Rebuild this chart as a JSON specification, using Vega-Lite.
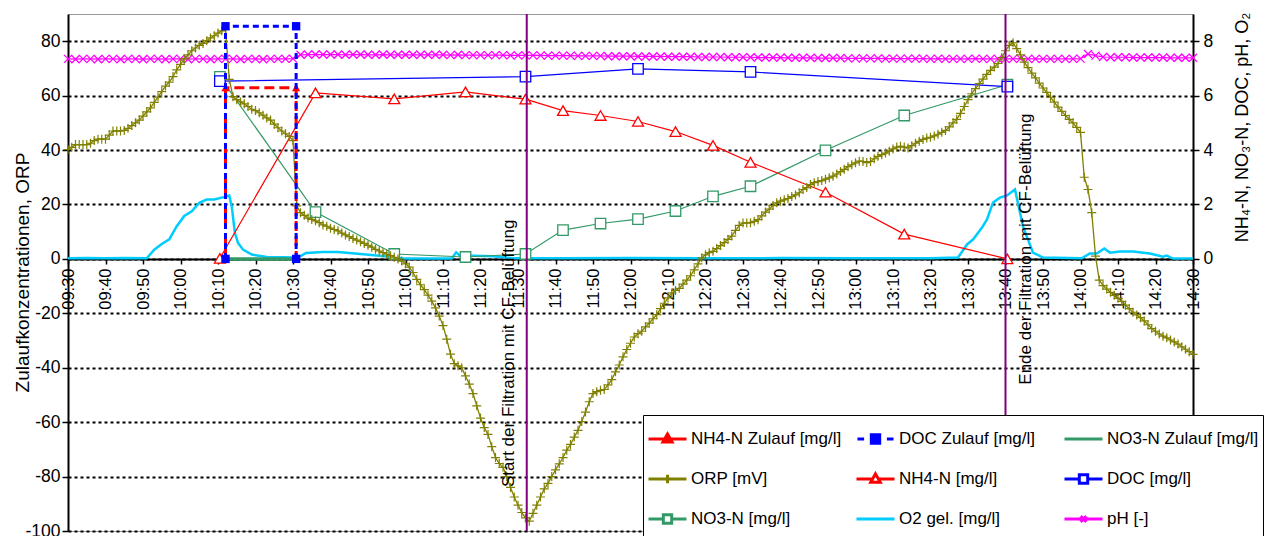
{
  "$schema": "https://vega.github.io/schema/vega-lite/v6.json",
  "width": 1125,
  "height": 517,
  "autosize": {"type": "none"},
  "padding": {"left": 68, "top": 14, "right": 71, "bottom": 5},
  "background": "white",
  "config": {
    "font": "Liberation Sans",
    "view": {"stroke": "#9a9a9a", "strokeWidth": 1},
    "axis": {"labelColor": "black", "titleColor": "black", "titleFontWeight": "normal", "labelFont": "Liberation Sans", "titleFont": "Liberation Sans"}
  },
  "encoding": {
    "x": {"field": "t", "type": "temporal",
      "scale": {"nice": false},
      "axis": {"title": null, "format": "%H:%M",
        "values": [
          {"year":1900,"month":1,"date":1,"hours":9,"minutes":30},{"year":1900,"month":1,"date":1,"hours":9,"minutes":40},{"year":1900,"month":1,"date":1,"hours":9,"minutes":50},
          {"year":1900,"month":1,"date":1,"hours":10,"minutes":0},{"year":1900,"month":1,"date":1,"hours":10,"minutes":10},{"year":1900,"month":1,"date":1,"hours":10,"minutes":20},
          {"year":1900,"month":1,"date":1,"hours":10,"minutes":30},{"year":1900,"month":1,"date":1,"hours":10,"minutes":40},{"year":1900,"month":1,"date":1,"hours":10,"minutes":50},
          {"year":1900,"month":1,"date":1,"hours":11,"minutes":0},{"year":1900,"month":1,"date":1,"hours":11,"minutes":10},{"year":1900,"month":1,"date":1,"hours":11,"minutes":20},
          {"year":1900,"month":1,"date":1,"hours":11,"minutes":30},{"year":1900,"month":1,"date":1,"hours":11,"minutes":40},{"year":1900,"month":1,"date":1,"hours":11,"minutes":50},
          {"year":1900,"month":1,"date":1,"hours":12,"minutes":0},{"year":1900,"month":1,"date":1,"hours":12,"minutes":10},{"year":1900,"month":1,"date":1,"hours":12,"minutes":20},
          {"year":1900,"month":1,"date":1,"hours":12,"minutes":30},{"year":1900,"month":1,"date":1,"hours":12,"minutes":40},{"year":1900,"month":1,"date":1,"hours":12,"minutes":50},
          {"year":1900,"month":1,"date":1,"hours":13,"minutes":0},{"year":1900,"month":1,"date":1,"hours":13,"minutes":10},{"year":1900,"month":1,"date":1,"hours":13,"minutes":20},
          {"year":1900,"month":1,"date":1,"hours":13,"minutes":30},{"year":1900,"month":1,"date":1,"hours":13,"minutes":40},{"year":1900,"month":1,"date":1,"hours":13,"minutes":50},
          {"year":1900,"month":1,"date":1,"hours":14,"minutes":0},{"year":1900,"month":1,"date":1,"hours":14,"minutes":10},{"year":1900,"month":1,"date":1,"hours":14,"minutes":20},
          {"year":1900,"month":1,"date":1,"hours":14,"minutes":30}
        ],
        "labelAngle": -90, "labelFontSize": 16.5, "labelPadding": 4, "labelFlush": false,
        "labelOverlap": false,
        "tickSize": 5, "tickColor": "black", "tickWidth": 1.5,
        "domainColor": "black", "domainWidth": 2, "grid": false, "offset": -272}}
  },
  "resolve": {"scale": {"y": "independent"}},
  "layer": [
    {
      "data": {"format": {"parse": {"t": "date:'%H:%M:%S'"}}, "values": [
        {"t":"09:30:00","v":0.02},{"t":"09:35:00","v":0.03},{"t":"09:40:00","v":0.02},{"t":"09:45:00","v":0.03},{"t":"09:51:00","v":0.02},
        {"t":"09:53:00","v":0.34},{"t":"09:55:00","v":0.55},{"t":"09:57:00","v":0.72},{"t":"09:59:00","v":1.2},{"t":"10:01:00","v":1.58},
        {"t":"10:03:00","v":1.75},{"t":"10:05:00","v":2.06},{"t":"10:07:00","v":2.18},{"t":"10:09:00","v":2.18},{"t":"10:11:30","v":2.27},
        {"t":"10:13:00","v":2.33},{"t":"10:13:40","v":1.93},{"t":"10:14:30","v":0.96},{"t":"10:15:20","v":0.59},{"t":"10:16:40","v":0.34},
        {"t":"10:19:00","v":0.16},{"t":"10:23:00","v":0.07},{"t":"10:31:00","v":0.05},{"t":"10:32:00","v":0.1},{"t":"10:33:30","v":0.22},
        {"t":"10:38:00","v":0.25},{"t":"10:42:00","v":0.25},{"t":"10:49:30","v":0.16},{"t":"10:56:30","v":0.07},{"t":"11:00:00","v":0.01},
        {"t":"11:12:20","v":0.01},{"t":"11:13:30","v":0.24},{"t":"11:14:30","v":0.12},{"t":"11:18:00","v":0.12},{"t":"11:23:30","v":0.1},
        {"t":"11:28:50","v":0.02},{"t":"11:40:00","v":0.02},{"t":"12:00:00","v":0.03},{"t":"12:20:00","v":0.02},{"t":"12:40:00","v":0.03},
        {"t":"13:00:00","v":0.02},{"t":"13:20:00","v":0.02},{"t":"13:27:20","v":0.05},{"t":"13:29:44","v":0.53},{"t":"13:31:20","v":0.71},
        {"t":"13:33:44","v":1.15},{"t":"13:35:04","v":1.45},{"t":"13:36:40","v":2.07},{"t":"13:38:32","v":2.25},{"t":"13:40:24","v":2.33},
        {"t":"13:42:32","v":2.55},{"t":"13:44:40","v":1.19},{"t":"13:46:00","v":0.71},{"t":"13:47:20","v":0.23},{"t":"13:50:00","v":0.05},
        {"t":"14:00:20","v":0.02},{"t":"14:02:30","v":0.2},{"t":"14:04:20","v":0.2},{"t":"14:06:20","v":0.38},{"t":"14:07:50","v":0.23},
        {"t":"14:10:30","v":0.27},{"t":"14:14:00","v":0.27},{"t":"14:18:30","v":0.2},{"t":"14:22:00","v":0.08},{"t":"14:23:00","v":0.12},
        {"t":"14:24:40","v":0.01},{"t":"14:30:00","v":0.01}
      ]},
      "mark": {"type": "line", "color": "#00CCFF", "strokeWidth": 2.5},
      "encoding": {
        "y": {"field": "v", "type": "quantitative",
          "scale": {"domain": [-10, 9], "nice": false, "zero": false},
          "axis": {"orient": "right", "title": "NH₄-N, NO₃-N, DOC, pH, O₂",
            "values": [-10,-8,-6,-4,-2,0,2,4,6,8],
            "labelExpr": "datum.value >= 0 ? toString(datum.value) : ''",
            "grid": false, "domainColor": "black", "domainWidth": 2,
            "tickColor": "black", "tickSize": 6, "tickWidth": 1.5,
            "labelFontSize": 17.5, "labelPadding": 4,
            "titleFontSize": 18, "titleAngle": 270, "titleX": 49, "titleY": 113,
            "titleAlign": "center", "titleBaseline": "middle"}}
      }
    },
    {
      "data": {"format": {"parse": {"t": "date:'%H:%M:%S'"}}, "values": [
        {"t":"10:10:30","v":6.69},{"t":"10:36:00","v":1.72},{"t":"10:57:00","v":0.18},{"t":"11:16:00","v":0.07},{"t":"11:32:00","v":0.18},
        {"t":"11:42:00","v":1.06},{"t":"11:52:00","v":1.3},{"t":"12:02:00","v":1.46},{"t":"12:12:00","v":1.76},{"t":"12:22:00","v":2.3},
        {"t":"12:32:00","v":2.67},{"t":"12:52:00","v":3.99},{"t":"13:13:00","v":5.27},{"t":"13:40:30","v":6.4}
      ]},
      "encoding": {
        "y": {"field": "v", "type": "quantitative", "scale": {"domain": [-10, 9], "nice": false, "zero": false}, "axis": null}
      },
      "layer": [
        {"mark": {"type": "line", "color": "#339966", "strokeWidth": 1.2}},
        {"mark": {"type": "point", "shape": "square", "size": 110, "filled": true, "fill": "white", "stroke": "#339966", "strokeWidth": 1.3, "opacity": 1}}
      ]
    },
    {
      "data": {"format": {"parse": {"t": "date:'%H:%M:%S'"}}, "values": [
        {"t":"10:10:30","v":6.53},{"t":"11:32:00","v":6.7},{"t":"12:02:00","v":6.98},{"t":"12:32:00","v":6.87},{"t":"13:40:30","v":6.33}
      ]},
      "encoding": {
        "y": {"field": "v", "type": "quantitative", "scale": {"domain": [-10, 9], "nice": false, "zero": false}, "axis": null}
      },
      "layer": [
        {"mark": {"type": "line", "color": "#0000FF", "strokeWidth": 1.2}},
        {"mark": {"type": "point", "shape": "square", "size": 110, "filled": true, "fill": "white", "stroke": "#0000FF", "strokeWidth": 1.3, "opacity": 1}}
      ]
    },
    {
      "data": {"format": {"parse": {"t": "date:'%H:%M:%S'"}}, "values": [
        {"t":"10:10:30","v":0.02},{"t":"10:36:00","v":6.1},{"t":"10:57:00","v":5.88},{"t":"11:16:00","v":6.14},{"t":"11:32:00","v":5.87},
        {"t":"11:42:00","v":5.45},{"t":"11:52:00","v":5.27},{"t":"12:02:00","v":5.05},{"t":"12:12:00","v":4.68},{"t":"12:22:00","v":4.17},
        {"t":"12:32:00","v":3.55},{"t":"12:52:00","v":2.45},{"t":"13:13:00","v":0.91},{"t":"13:40:30","v":0.0}
      ]},
      "encoding": {
        "y": {"field": "v", "type": "quantitative", "scale": {"domain": [-10, 9], "nice": false, "zero": false}, "axis": null}
      },
      "layer": [
        {"mark": {"type": "line", "color": "#FF0000", "strokeWidth": 1.2}},
        {"mark": {"type": "point", "shape": "triangle-up", "size": 120, "filled": true, "fill": "white", "stroke": "#FF0000", "strokeWidth": 1.3, "opacity": 1}}
      ]
    },
    {
      "data": {"format": {"parse": {"t": "date:'%H:%M'"}}, "values": [
        {"t":"09:30","v":7.35},{"t":"09:32","v":7.34},{"t":"09:34","v":7.35},{"t":"09:36","v":7.35},{"t":"09:38","v":7.34},{"t":"09:40","v":7.35},
        {"t":"09:42","v":7.35},{"t":"09:44","v":7.34},{"t":"09:46","v":7.35},{"t":"09:48","v":7.35},{"t":"09:50","v":7.34},{"t":"09:52","v":7.35},
        {"t":"09:54","v":7.35},{"t":"09:56","v":7.34},{"t":"09:58","v":7.35},{"t":"10:00","v":7.35},{"t":"10:02","v":7.34},{"t":"10:04","v":7.35},
        {"t":"10:06","v":7.35},{"t":"10:08","v":7.34},{"t":"10:10","v":7.35},{"t":"10:12","v":7.35},{"t":"10:14","v":7.35},{"t":"10:16","v":7.34},
        {"t":"10:18","v":7.35},{"t":"10:20","v":7.35},{"t":"10:22","v":7.34},{"t":"10:24","v":7.35},{"t":"10:26","v":7.35},{"t":"10:28","v":7.35},
        {"t":"10:30","v":7.36},{"t":"10:32","v":7.5},{"t":"10:34","v":7.51},{"t":"10:36","v":7.51},{"t":"10:38","v":7.51},{"t":"10:40","v":7.51},
        {"t":"10:42","v":7.51},{"t":"10:44","v":7.5},{"t":"10:46","v":7.51},{"t":"10:48","v":7.51},{"t":"10:50","v":7.5},{"t":"10:52","v":7.5},
        {"t":"10:54","v":7.51},{"t":"10:56","v":7.5},{"t":"10:58","v":7.5},{"t":"11:00","v":7.5},{"t":"11:02","v":7.5},{"t":"11:04","v":7.5},
        {"t":"11:06","v":7.5},{"t":"11:08","v":7.5},{"t":"11:10","v":7.5},{"t":"11:12","v":7.49},{"t":"11:14","v":7.5},{"t":"11:16","v":7.49},
        {"t":"11:18","v":7.49},{"t":"11:20","v":7.49},{"t":"11:22","v":7.49},{"t":"11:24","v":7.49},{"t":"11:26","v":7.49},{"t":"11:28","v":7.48},
        {"t":"11:30","v":7.48},{"t":"11:32","v":7.48},{"t":"11:34","v":7.48},{"t":"11:36","v":7.48},{"t":"11:38","v":7.47},{"t":"11:40","v":7.47},
        {"t":"11:42","v":7.47},{"t":"11:44","v":7.47},{"t":"11:46","v":7.46},{"t":"11:48","v":7.46},{"t":"11:50","v":7.46},{"t":"11:52","v":7.46},
        {"t":"11:54","v":7.45},{"t":"11:56","v":7.45},{"t":"11:58","v":7.45},{"t":"12:00","v":7.45},{"t":"12:02","v":7.44},{"t":"12:04","v":7.44},
        {"t":"12:06","v":7.44},{"t":"12:08","v":7.44},{"t":"12:10","v":7.43},{"t":"12:12","v":7.43},{"t":"12:14","v":7.43},{"t":"12:16","v":7.43},
        {"t":"12:18","v":7.42},{"t":"12:20","v":7.42},{"t":"12:22","v":7.42},{"t":"12:24","v":7.42},{"t":"12:26","v":7.41},{"t":"12:28","v":7.41},
        {"t":"12:30","v":7.41},{"t":"12:32","v":7.41},{"t":"12:34","v":7.4},{"t":"12:36","v":7.4},{"t":"12:38","v":7.4},{"t":"12:40","v":7.4},
        {"t":"12:42","v":7.39},{"t":"12:44","v":7.39},{"t":"12:46","v":7.39},{"t":"12:48","v":7.39},{"t":"12:50","v":7.38},{"t":"12:52","v":7.38},
        {"t":"12:54","v":7.38},{"t":"12:56","v":7.38},{"t":"12:58","v":7.37},{"t":"13:00","v":7.37},{"t":"13:02","v":7.37},{"t":"13:04","v":7.37},
        {"t":"13:06","v":7.37},{"t":"13:08","v":7.36},{"t":"13:10","v":7.36},{"t":"13:12","v":7.36},{"t":"13:14","v":7.36},{"t":"13:16","v":7.36},
        {"t":"13:18","v":7.36},{"t":"13:20","v":7.35},{"t":"13:22","v":7.36},{"t":"13:24","v":7.35},{"t":"13:26","v":7.35},{"t":"13:28","v":7.35},
        {"t":"13:30","v":7.35},{"t":"13:32","v":7.36},{"t":"13:34","v":7.35},{"t":"13:36","v":7.35},{"t":"13:38","v":7.35},{"t":"13:40","v":7.35},
        {"t":"13:42","v":7.35},{"t":"13:44","v":7.36},{"t":"13:46","v":7.35},{"t":"13:48","v":7.35},{"t":"13:50","v":7.35},{"t":"13:52","v":7.35},
        {"t":"13:54","v":7.35},{"t":"13:56","v":7.35},{"t":"13:58","v":7.35},{"t":"14:00","v":7.36},{"t":"14:02","v":7.53},{"t":"14:04","v":7.47},
        {"t":"14:06","v":7.42},{"t":"14:08","v":7.41},{"t":"14:10","v":7.41},{"t":"14:12","v":7.41},{"t":"14:14","v":7.4},{"t":"14:16","v":7.4},
        {"t":"14:18","v":7.4},{"t":"14:20","v":7.4},{"t":"14:22","v":7.4},{"t":"14:24","v":7.39},{"t":"14:26","v":7.39},{"t":"14:28","v":7.39},
        {"t":"14:30","v":7.39}
      ]},
      "encoding": {
        "y": {"field": "v", "type": "quantitative", "scale": {"domain": [-10, 9], "nice": false, "zero": false}, "axis": null}
      },
      "layer": [
        {"mark": {"type": "line", "color": "#FF00FF", "strokeWidth": 1.2}},
        {"mark": {"type": "point", "shape": "M-1,-1L1,1M-1,1L1,-1", "size": 64, "filled": false, "color": "#FF00FF", "strokeWidth": 1.3, "opacity": 1}}
      ]
    },
    {
      "data": {"format": {"parse": {"t": "date:'%H:%M'"}}, "values": [
        {"t":"09:30","v":40.2},{"t":"09:31","v":41},{"t":"09:32","v":42},{"t":"09:33","v":42},{"t":"09:34","v":42},{"t":"09:35","v":42},
        {"t":"09:36","v":42.5},{"t":"09:37","v":43.5},{"t":"09:38","v":44},{"t":"09:39","v":44},{"t":"09:40","v":44},{"t":"09:41","v":45.5},
        {"t":"09:42","v":47},{"t":"09:43","v":47},{"t":"09:44","v":47},{"t":"09:45","v":47.2},{"t":"09:46","v":48},{"t":"09:47","v":49},
        {"t":"09:48","v":50},{"t":"09:49","v":51},{"t":"09:50","v":52.5},{"t":"09:51","v":54},{"t":"09:52","v":55.5},{"t":"09:53","v":57.5},
        {"t":"09:54","v":59.5},{"t":"09:55","v":61.5},{"t":"09:56","v":63.5},{"t":"09:57","v":65},{"t":"09:58","v":67},{"t":"09:59","v":69.5},
        {"t":"10:00","v":71.5},{"t":"10:01","v":73.5},{"t":"10:02","v":75},{"t":"10:03","v":76.5},{"t":"10:04","v":77.5},{"t":"10:05","v":78.5},
        {"t":"10:06","v":79.2},{"t":"10:07","v":80.2},{"t":"10:08","v":81.2},{"t":"10:09","v":82},{"t":"10:10","v":83},{"t":"10:11","v":83.8},
        {"t":"10:12","v":84.3},{"t":"10:13","v":66},{"t":"10:14","v":59.6},{"t":"10:15","v":58.5},{"t":"10:16","v":57.7},{"t":"10:17","v":57},
        {"t":"10:18","v":56},{"t":"10:19","v":55},{"t":"10:20","v":54.5},{"t":"10:21","v":53.7},{"t":"10:22","v":52.8},{"t":"10:23","v":51.8},
        {"t":"10:24","v":51},{"t":"10:25","v":49.5},{"t":"10:26","v":48.2},{"t":"10:27","v":47},{"t":"10:28","v":46},{"t":"10:29","v":45},
        {"t":"10:30","v":43.5},{"t":"10:31","v":19.5},{"t":"10:32","v":17},{"t":"10:33","v":16},{"t":"10:34","v":15},{"t":"10:35","v":14.5},
        {"t":"10:36","v":14},{"t":"10:37","v":13.3},{"t":"10:38","v":12.5},{"t":"10:39","v":12},{"t":"10:40","v":11.3},{"t":"10:41","v":10.8},
        {"t":"10:42","v":10.3},{"t":"10:43","v":9.5},{"t":"10:44","v":8.8},{"t":"10:45","v":8.2},{"t":"10:46","v":7.5},{"t":"10:47","v":6.9},
        {"t":"10:48","v":6.3},{"t":"10:49","v":5.7},{"t":"10:50","v":5},{"t":"10:51","v":4.3},{"t":"10:52","v":3.5},{"t":"10:53","v":2.9},
        {"t":"10:54","v":2.3},{"t":"10:55","v":1.7},{"t":"10:56","v":1.2},{"t":"10:57","v":0.6},{"t":"10:58","v":0},{"t":"10:59","v":-0.8},
        {"t":"11:00","v":-1.8},{"t":"11:01","v":-3},{"t":"11:02","v":-5},{"t":"11:03","v":-7.5},{"t":"11:04","v":-9.5},{"t":"11:05","v":-11.3},
        {"t":"11:06","v":-13.3},{"t":"11:07","v":-15.5},{"t":"11:08","v":-18},{"t":"11:09","v":-21},{"t":"11:10","v":-24.5},{"t":"11:11","v":-29.5},
        {"t":"11:12","v":-35},{"t":"11:13","v":-38.5},{"t":"11:14","v":-39.3},{"t":"11:15","v":-40},{"t":"11:16","v":-43},{"t":"11:17","v":-46},
        {"t":"11:18","v":-49.5},{"t":"11:19","v":-54},{"t":"11:20","v":-58.5},{"t":"11:21","v":-62},{"t":"11:22","v":-64.5},{"t":"11:23","v":-69},
        {"t":"11:24","v":-73},{"t":"11:25","v":-75.2},{"t":"11:26","v":-76.6},{"t":"11:27","v":-80},{"t":"11:28","v":-84},{"t":"11:29","v":-87.5},
        {"t":"11:30","v":-90.5},{"t":"11:31","v":-93.2},{"t":"11:32","v":-95.2},{"t":"11:33","v":-96.4},{"t":"11:34","v":-93.5},{"t":"11:35","v":-90.5},
        {"t":"11:36","v":-87.5},{"t":"11:37","v":-84.5},{"t":"11:38","v":-82.5},{"t":"11:39","v":-80},{"t":"11:40","v":-77.5},{"t":"11:41","v":-75.3},
        {"t":"11:42","v":-73},{"t":"11:43","v":-70.3},{"t":"11:44","v":-68.2},{"t":"11:45","v":-65.5},{"t":"11:46","v":-63},{"t":"11:47","v":-59.8},
        {"t":"11:48","v":-56.3},{"t":"11:49","v":-52.5},{"t":"11:50","v":-49.5},{"t":"11:51","v":-48.8},{"t":"11:52","v":-48.3},{"t":"11:53","v":-48},
        {"t":"11:54","v":-46.3},{"t":"11:55","v":-44.4},{"t":"11:56","v":-41.5},{"t":"11:57","v":-39},{"t":"11:58","v":-36},{"t":"11:59","v":-33.3},
        {"t":"12:00","v":-31},{"t":"12:01","v":-28.7},{"t":"12:02","v":-27.5},{"t":"12:03","v":-26.6},{"t":"12:04","v":-25},{"t":"12:05","v":-23.6},
        {"t":"12:06","v":-22},{"t":"12:07","v":-20.5},{"t":"12:08","v":-18.3},{"t":"12:09","v":-16.3},{"t":"12:10","v":-14.3},{"t":"12:11","v":-12.5},
        {"t":"12:12","v":-11.6},{"t":"12:13","v":-10.8},{"t":"12:14","v":-9.3},{"t":"12:15","v":-7.8},{"t":"12:16","v":-6.2},{"t":"12:17","v":-4},
        {"t":"12:18","v":-1.8},{"t":"12:19","v":0.4},{"t":"12:20","v":1.5},{"t":"12:21","v":2.3},{"t":"12:22","v":2.8},{"t":"12:23","v":3.8},
        {"t":"12:24","v":4.9},{"t":"12:25","v":6},{"t":"12:26","v":7.2},{"t":"12:27","v":8.4},{"t":"12:28","v":10.5},{"t":"12:29","v":12.3},
        {"t":"12:30","v":13.2},{"t":"12:31","v":13.2},{"t":"12:32","v":13.3},{"t":"12:33","v":13.8},{"t":"12:34","v":14.4},{"t":"12:35","v":15.8},
        {"t":"12:36","v":17.2},{"t":"12:37","v":18.3},{"t":"12:38","v":19.6},{"t":"12:39","v":20.6},{"t":"12:40","v":21.2},{"t":"12:41","v":21.7},
        {"t":"12:42","v":22.2},{"t":"12:43","v":22.9},{"t":"12:44","v":23.5},{"t":"12:45","v":24.3},{"t":"12:46","v":25.5},{"t":"12:47","v":26.2},
        {"t":"12:48","v":27.3},{"t":"12:49","v":28},{"t":"12:50","v":28.4},{"t":"12:51","v":28.8},{"t":"12:52","v":29.3},{"t":"12:53","v":29.8},
        {"t":"12:54","v":30.4},{"t":"12:55","v":31.2},{"t":"12:56","v":32.1},{"t":"12:57","v":32.9},{"t":"12:58","v":33.9},{"t":"12:59","v":34.6},
        {"t":"13:00","v":35.3},{"t":"13:01","v":35.9},{"t":"13:02","v":35.8},{"t":"13:03","v":35.4},{"t":"13:04","v":35.8},{"t":"13:05","v":36.8},
        {"t":"13:06","v":37.7},{"t":"13:07","v":38.3},{"t":"13:08","v":38.9},{"t":"13:09","v":39.6},{"t":"13:10","v":40.4},{"t":"13:11","v":41.1},
        {"t":"13:12","v":41.4},{"t":"13:13","v":41.1},{"t":"13:14","v":40.8},{"t":"13:15","v":41.6},{"t":"13:16","v":42.5},{"t":"13:17","v":43.2},
        {"t":"13:18","v":43.9},{"t":"13:19","v":44.4},{"t":"13:20","v":44.7},{"t":"13:21","v":45.2},{"t":"13:22","v":45.8},{"t":"13:23","v":46.5},
        {"t":"13:24","v":47.2},{"t":"13:25","v":48.5},{"t":"13:26","v":50},{"t":"13:27","v":51.3},{"t":"13:28","v":53.5},{"t":"13:29","v":56},
        {"t":"13:30","v":58.5},{"t":"13:31","v":60.7},{"t":"13:32","v":62.6},{"t":"13:33","v":64.4},{"t":"13:34","v":66.1},{"t":"13:35","v":67.8},
        {"t":"13:36","v":69.3},{"t":"13:37","v":70.5},{"t":"13:38","v":71.8},{"t":"13:39","v":74},{"t":"13:40","v":76.5},{"t":"13:41","v":78.5},
        {"t":"13:42","v":79.4},{"t":"13:43","v":77.3},{"t":"13:44","v":75},{"t":"13:45","v":72.3},{"t":"13:46","v":70.3},{"t":"13:47","v":68.3},
        {"t":"13:48","v":66.5},{"t":"13:49","v":64.6},{"t":"13:50","v":62.8},{"t":"13:51","v":61.2},{"t":"13:52","v":59.4},{"t":"13:53","v":57.6},
        {"t":"13:54","v":55.8},{"t":"13:55","v":54.2},{"t":"13:56","v":52.7},{"t":"13:57","v":51.3},{"t":"13:58","v":50},{"t":"13:59","v":48.3},
        {"t":"14:00","v":46.5},{"t":"14:01","v":30},{"t":"14:02","v":25.5},{"t":"14:03","v":17},{"t":"14:04","v":1},{"t":"14:05","v":-7.8},
        {"t":"14:06","v":-9.8},{"t":"14:07","v":-11.1},{"t":"14:08","v":-12.3},{"t":"14:09","v":-13.4},{"t":"14:10","v":-14.5},{"t":"14:11","v":-15.6},
        {"t":"14:12","v":-17},{"t":"14:13","v":-18.3},{"t":"14:14","v":-19.6},{"t":"14:15","v":-20.6},{"t":"14:16","v":-21.6},{"t":"14:17","v":-22.8},
        {"t":"14:18","v":-24.2},{"t":"14:19","v":-25.6},{"t":"14:20","v":-26.6},{"t":"14:21","v":-27.6},{"t":"14:22","v":-28.4},{"t":"14:23","v":-29},
        {"t":"14:24","v":-29.8},{"t":"14:25","v":-30.5},{"t":"14:26","v":-31.3},{"t":"14:27","v":-32.3},{"t":"14:28","v":-33.2},{"t":"14:29","v":-34.1},
        {"t":"14:30","v":-35.1}
      ]},
      "encoding": {
        "y": {"field": "v", "type": "quantitative",
          "scale": {"domain": [-100, 90], "nice": false, "zero": false},
          "axis": {"orient": "left", "title": "Zulaufkonzentrationen, ORP",
            "values": [-100,-80,-60,-40,-20,0,20,40,60,80],
            "labelExpr": "toString(datum.value)",
            "grid": true, "gridColor": "black", "gridDash": [3, 3], "gridWidth": 2,
            "domainColor": "black", "domainWidth": 2,
            "tickColor": "black", "tickSize": 6, "tickWidth": 1.5,
            "labelFontSize": 17.5, "labelPadding": 2,
            "titleFontSize": 19, "titleX": -46, "titleY": 258,
            "titleAlign": "center", "titleBaseline": "middle"}}
      },
      "layer": [
        {"mark": {"type": "line", "color": "#808000", "strokeWidth": 1.3}},
        {"mark": {"type": "point", "shape": "M-1,0H1M0,-1V1", "size": 81, "filled": false, "color": "#808000", "strokeWidth": 1.2, "opacity": 1}}
      ]
    },
    {
      "data": {"format": {"parse": {"t": "date:'%H:%M:%S'"}}, "values": [
        {"t":"10:12:00","v":0},{"t":"10:30:50","v":0}
      ]},
      "mark": {"type": "line", "color": "#339966", "strokeWidth": 3.5},
      "encoding": {
        "y": {"field": "v", "type": "quantitative", "scale": {"domain": [-100, 90], "nice": false, "zero": false}, "axis": null}
      }
    },
    {
      "data": {"format": {"parse": {"t": "date:'%H:%M:%S'"}}, "values": [
        {"t":"10:12:00","v":0,"i":1},{"t":"10:12:00","v":62.9,"i":2},{"t":"10:30:50","v":62.9,"i":3},{"t":"10:30:50","v":0,"i":4}
      ]},
      "encoding": {
        "y": {"field": "v", "type": "quantitative", "scale": {"domain": [-100, 90], "nice": false, "zero": false}, "axis": null},
        "order": {"field": "i", "type": "quantitative"}
      },
      "layer": [
        {"mark": {"type": "line", "color": "#FF0000", "strokeWidth": 3, "strokeDash": [10, 5]}},
        {"mark": {"type": "point", "shape": "triangle-up", "size": 70, "filled": true, "color": "#FF0000", "opacity": 1}}
      ]
    },
    {
      "data": {"format": {"parse": {"t": "date:'%H:%M:%S'"}}, "values": [
        {"t":"10:12:00","v":0,"i":1},{"t":"10:12:00","v":85.5,"i":2},{"t":"10:30:50","v":85.5,"i":3},{"t":"10:30:50","v":0,"i":4}
      ]},
      "encoding": {
        "y": {"field": "v", "type": "quantitative", "scale": {"domain": [-100, 90], "nice": false, "zero": false}, "axis": null},
        "order": {"field": "i", "type": "quantitative"}
      },
      "layer": [
        {"mark": {"type": "line", "color": "#0000FF", "strokeWidth": 3, "strokeDash": [6, 4]}},
        {"mark": {"type": "point", "shape": "square", "size": 70, "filled": true, "color": "#0000FF", "opacity": 1}}
      ]
    },
    {
      "data": {"format": {"parse": {"t": "date:'%H:%M:%S'"}}, "values": [
        {"t":"11:32:20"},{"t":"13:40:00"}
      ]},
      "mark": {"type": "rule", "color": "#800080", "strokeWidth": 2},
      "encoding": {}
    },
    {
      "data": {"format": {"parse": {"t": "date:'%H:%M:%S'"}}, "values": [
        {"t":"11:27:40","v":-34.7,"label":"Start der Filtration mit CF-Belüftung"},
        {"t":"13:45:30","v":3.6,"label":"Ende der Filtration mit CF-Belüftung"}
      ]},
      "mark": {"type": "text", "angle": 270, "fontSize": 17, "color": "black", "align": "center", "baseline": "middle"},
      "encoding": {
        "y": {"field": "v", "type": "quantitative", "scale": {"domain": [-100, 90], "nice": false, "zero": false}, "axis": null},
        "text": {"field": "label"}
      }
    },
    {
      "data": {"values": [
        {"s":"NH4-N Zulauf [mg/l]"},{"s":"DOC Zulauf [mg/l]"},{"s":"NO3-N Zulauf [mg/l]"},
        {"s":"ORP [mV]"},{"s":"NH4-N [mg/l]"},{"s":"DOC [mg/l]"},
        {"s":"NO3-N [mg/l]"},{"s":"O2 gel. [mg/l]"},{"s":"pH [-]"}
      ]},
      "mark": {"type": "point", "opacity": 0, "filled": false},
      "encoding": {
        "x": {"value": 0},
        "stroke": {"field": "s", "type": "nominal",
          "scale": {"domain": ["NH4-N Zulauf [mg/l]","DOC Zulauf [mg/l]","NO3-N Zulauf [mg/l]","ORP [mV]","NH4-N [mg/l]","DOC [mg/l]","NO3-N [mg/l]","O2 gel. [mg/l]","pH [-]"],
            "range": ["#FF0000","#0000FF","#339966","#808000","#FF0000","#0000FF","#339966","#00CCFF","#FF00FF"]},
          "legend": {"title": null, "orient": "none", "legendX": 575, "legendY": 401, "columns": 3, "direction": "horizontal",
            "symbolSize": 1444, "labelFontSize": 17, "labelColor": "black", "labelOffset": 3, "labelLimit": 400,
            "fillColor": "white", "strokeColor": "black", "padding": 4, "rowPadding": 0, "columnPadding": 12,
            "gridAlign": "all", "clipHeight": 40, "symbolOpacity": 1}},
        "fill": {"field": "s", "type": "nominal",
          "scale": {"domain": ["NH4-N Zulauf [mg/l]","DOC Zulauf [mg/l]","NO3-N Zulauf [mg/l]","ORP [mV]","NH4-N [mg/l]","DOC [mg/l]","NO3-N [mg/l]","O2 gel. [mg/l]","pH [-]"],
            "range": ["#FF0000","#0000FF","transparent","transparent","transparent","transparent","transparent","transparent","transparent"]},
          "legend": {"title": null, "orient": "none", "legendX": 575, "legendY": 401, "columns": 3, "direction": "horizontal",
            "symbolSize": 1444, "labelFontSize": 17, "labelColor": "black", "labelOffset": 3, "labelLimit": 400,
            "fillColor": "white", "strokeColor": "black", "padding": 4, "rowPadding": 0, "columnPadding": 12,
            "gridAlign": "all", "clipHeight": 40, "symbolOpacity": 1}},
        "strokeWidth": {"field": "s", "type": "nominal",
          "scale": {"domain": ["NH4-N Zulauf [mg/l]","DOC Zulauf [mg/l]","NO3-N Zulauf [mg/l]","ORP [mV]","NH4-N [mg/l]","DOC [mg/l]","NO3-N [mg/l]","O2 gel. [mg/l]","pH [-]"],
            "range": [3, 3, 3.5, 1.3, 1.2, 1.2, 1.2, 3, 1.2]},
          "legend": {"title": null, "orient": "none", "legendX": 575, "legendY": 401, "columns": 3, "direction": "horizontal",
            "symbolSize": 1444, "labelFontSize": 17, "labelColor": "black", "labelOffset": 3, "labelLimit": 400,
            "fillColor": "white", "strokeColor": "black", "padding": 4, "rowPadding": 0, "columnPadding": 12,
            "gridAlign": "all", "clipHeight": 40, "symbolOpacity": 1}},
        "shape": {"field": "s", "type": "nominal",
          "scale": {"domain": ["NH4-N Zulauf [mg/l]","DOC Zulauf [mg/l]","NO3-N Zulauf [mg/l]","ORP [mV]","NH4-N [mg/l]","DOC [mg/l]","NO3-N [mg/l]","O2 gel. [mg/l]","pH [-]"],
            "range": [
              "M-1,0H1M0,-0.26L0.24,0.16L-0.24,0.16Z",
              "M-0.95,0H-0.6M0.6,0H0.95M-0.22,-0.22H0.22V0.22H-0.22Z",
              "M-1,0H1",
              "M-1,0H1M0,-0.22V0.22",
              "M-1,0H-0.15M0.15,0H1M0,-0.27L0.25,0.17L-0.25,0.17Z",
              "M-1,0H-0.22M0.22,0H1M-0.22,-0.22H0.22V0.22H-0.22Z",
              "M-1,0H-0.22M0.22,0H1M-0.22,-0.22H0.22V0.22H-0.22Z",
              "M-1,0H1",
              "M-1,0H1M-0.15,-0.15L0.15,0.15M-0.15,0.15L0.15,-0.15"
            ]},
          "legend": {"title": null, "orient": "none", "legendX": 575, "legendY": 401, "columns": 3, "direction": "horizontal",
            "symbolSize": 1444, "labelFontSize": 17, "labelColor": "black", "labelOffset": 3, "labelLimit": 400,
            "fillColor": "white", "strokeColor": "black", "padding": 4, "rowPadding": 0, "columnPadding": 12,
            "gridAlign": "all", "clipHeight": 40, "symbolOpacity": 1}}
      }
    }
  ]
}
